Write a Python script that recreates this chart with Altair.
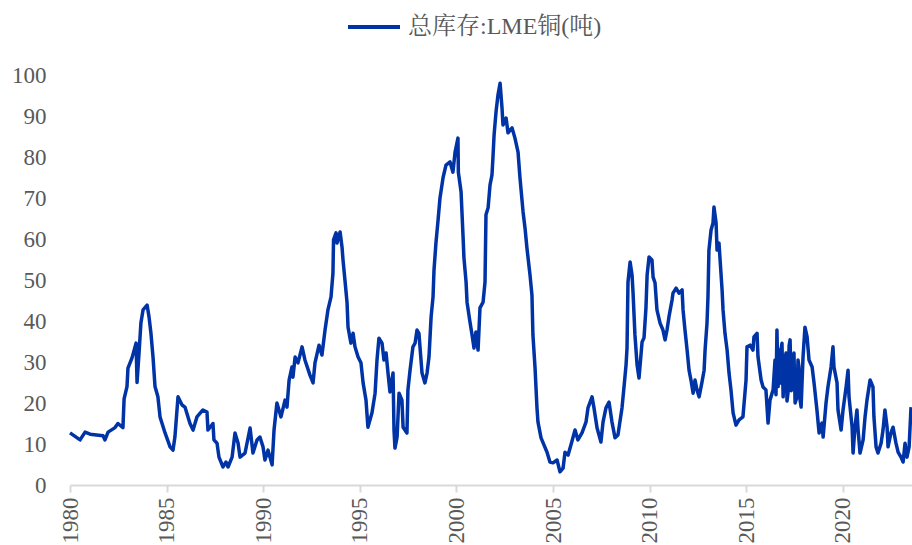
import altair as alt
import pandas as pd

series_name = "总库存:LME铜(吨)"

years = [
    1980.00, 1980.52, 1980.78, 1981.04, 1981.71, 1981.81, 1981.97, 1982.33, 1982.48, 1982.74,
    1982.80, 1982.95, 1983.00, 1983.21, 1983.42, 1983.47, 1983.57, 1983.67, 1983.78, 1983.99,
    1984.09, 1984.19, 1984.30, 1984.40, 1984.55, 1984.66, 1984.92, 1985.18, 1985.33, 1985.43,
    1985.59, 1985.80, 1985.95, 1986.21, 1986.37, 1986.57, 1986.88, 1987.09, 1987.14, 1987.40,
    1987.45, 1987.61, 1987.71, 1987.92, 1988.07, 1988.18, 1988.39, 1988.54, 1988.70, 1988.80,
    1989.06, 1989.32, 1989.47, 1989.68, 1989.83, 1989.99, 1990.09, 1990.25, 1990.46, 1990.56,
    1990.71, 1990.92, 1991.13, 1991.23, 1991.34, 1991.49, 1991.54, 1991.65, 1991.80, 1992.01,
    1992.16, 1992.42, 1992.58, 1992.68, 1992.89, 1993.04, 1993.20, 1993.35, 1993.51, 1993.61,
    1993.64, 1993.77, 1993.82, 1993.98, 1994.08, 1994.13, 1994.23, 1994.34, 1994.39, 1994.54,
    1994.65, 1994.75, 1994.91, 1995.06, 1995.17, 1995.32, 1995.42, 1995.63, 1995.79, 1995.89,
    1995.99, 1996.15, 1996.25, 1996.36, 1996.46, 1996.56, 1996.72, 1996.77, 1996.82, 1996.93,
    1997.03, 1997.18, 1997.24, 1997.44, 1997.49, 1997.60, 1997.75, 1997.86, 1997.96, 1998.06,
    1998.22, 1998.37, 1998.48, 1998.58, 1998.69, 1998.79, 1998.84, 1998.94, 1999.05, 1999.15,
    1999.31, 1999.46, 1999.67, 1999.82, 1999.93, 2000.08, 2000.10, 2000.24, 2000.34, 2000.39,
    2000.50, 2000.55, 2000.70, 2000.81, 2000.91, 2001.01, 2001.12, 2001.22, 2001.38, 2001.48,
    2001.53, 2001.64, 2001.74, 2001.84, 2001.89, 2001.95, 2002.05, 2002.15, 2002.26, 2002.36,
    2002.41, 2002.57, 2002.67, 2002.88, 2003.03, 2003.19, 2003.29, 2003.45, 2003.55, 2003.65,
    2003.81, 2003.91, 2003.96, 2004.07, 2004.17, 2004.22, 2004.38, 2004.53, 2004.69, 2004.84,
    2005.00, 2005.21, 2005.36, 2005.52, 2005.62, 2005.78, 2005.93, 2006.14, 2006.29, 2006.50,
    2006.71, 2006.81, 2007.02, 2007.12, 2007.28, 2007.48, 2007.59, 2007.74, 2007.90, 2008.05,
    2008.21, 2008.36, 2008.57, 2008.67, 2008.78, 2008.83, 2008.88, 2008.99, 2009.09, 2009.14,
    2009.24, 2009.35, 2009.45, 2009.61, 2009.71, 2009.81, 2009.87, 2009.97, 2010.12, 2010.18,
    2010.28, 2010.38, 2010.54, 2010.69, 2010.80, 2010.90, 2011.00, 2011.16, 2011.21, 2011.37,
    2011.52, 2011.68, 2011.73, 2011.83, 2011.94, 2012.04, 2012.14, 2012.25, 2012.35, 2012.45,
    2012.56, 2012.71, 2012.82, 2012.87, 2012.97, 2013.02, 2013.07, 2013.18, 2013.28, 2013.33,
    2013.44, 2013.49, 2013.59, 2013.75, 2013.80, 2013.90, 2014.01, 2014.11, 2014.21, 2014.32,
    2014.47, 2014.63, 2014.83, 2014.99, 2015.04, 2015.20, 2015.35, 2015.40, 2015.56, 2015.61,
    2015.77, 2015.87, 2016.02, 2016.13, 2016.23, 2016.39, 2016.49, 2016.54, 2016.59, 2016.65,
    2016.70, 2016.75, 2016.80, 2016.85, 2016.91, 2016.98, 2017.06, 2017.11, 2017.16, 2017.22,
    2017.27, 2017.33, 2017.42, 2017.47, 2017.53, 2017.63, 2017.68, 2017.73, 2017.78, 2017.84,
    2017.94, 2018.04, 2018.15, 2018.25, 2018.41, 2018.51, 2018.66, 2018.77, 2018.92, 2018.98,
    2019.13, 2019.23, 2019.39, 2019.49, 2019.54, 2019.70, 2019.75, 2019.91, 2020.01, 2020.17,
    2020.27, 2020.32, 2020.48, 2020.53, 2020.63, 2020.73, 2020.79, 2020.89, 2021.05, 2021.15,
    2021.25, 2021.41, 2021.56, 2021.61, 2021.72, 2021.82, 2021.98, 2022.08, 2022.18, 2022.29,
    2022.34, 2022.49, 2022.60, 2022.75, 2022.86, 2023.01, 2023.12, 2023.22, 2023.32, 2023.43,
    2023.53,
]

values = [
    12.7, 11.0, 12.9, 12.4, 12.0, 11.0, 12.9, 14.0, 15.0, 14.0,
    21.0, 24.0, 28.5, 31.0, 34.6, 25.0, 32.0, 39.5, 42.7, 43.9,
    41.0, 37.0, 31.0, 24.0, 21.5, 16.6, 12.7, 9.3, 8.5, 11.7,
    21.5, 19.5, 19.0, 15.0, 13.4, 16.6, 18.3, 17.8, 13.4, 15.0,
    11.0, 10.2, 6.8, 4.4, 5.6, 4.4, 6.8, 12.7, 10.2, 6.8,
    7.8, 13.9, 7.8, 11.0, 11.7, 9.3, 6.1, 8.5, 4.9, 13.4,
    20.0, 16.6, 20.7, 19.0, 25.6, 28.8, 26.3, 31.2, 29.8, 33.7,
    30.5, 26.8, 24.9, 29.8, 34.1, 31.7, 37.8, 42.7, 45.9, 51.7,
    59.8, 61.5, 59.0, 61.7, 58.0, 54.9, 50.0, 44.4, 38.5, 34.6,
    37.0, 33.7, 31.2, 29.8, 24.9, 20.7, 14.1, 17.6, 22.4, 30.5,
    35.8, 34.6, 30.5, 32.2, 27.3, 22.7, 27.3, 13.4, 9.0, 11.7,
    22.4, 20.7, 14.1, 12.7, 23.2, 28.0, 33.7, 34.6, 37.8, 37.0,
    27.3, 24.9, 27.3, 31.2, 41.0, 45.9, 52.4, 59.0, 64.6, 70.0,
    75.0, 78.0, 78.8, 76.3, 81.2, 84.6, 76.3, 71.5, 61.0, 55.4,
    49.5, 44.6, 39.8, 36.6, 33.4, 37.3, 32.9, 43.2, 44.6, 49.5,
    65.9, 67.6, 73.2, 75.6, 79.8, 85.4, 91.0, 95.1, 98.0, 92.0,
    87.8, 89.5, 85.9, 87.1, 84.6, 81.2, 74.9, 66.6, 62.7, 57.8,
    51.2, 46.3, 36.6, 28.5, 18.8, 15.4, 11.5, 9.8, 8.0, 5.6,
    5.4, 6.1, 3.2, 4.1, 8.0, 7.3, 9.8, 13.4, 11.0, 12.7,
    15.4, 18.8, 21.5, 18.8, 13.9, 10.5, 15.4, 18.8, 20.2, 15.4,
    11.5, 12.2, 18.8, 23.7, 29.3, 33.4, 49.5, 54.4, 51.2, 47.1,
    36.6, 29.3, 26.1, 34.9, 35.9, 43.2, 51.2, 55.6, 54.9, 50.7,
    49.3, 42.7, 39.5, 37.8, 35.4, 37.8, 41.0, 45.1, 46.8, 48.0,
    46.8, 47.6, 42.7, 37.8, 32.9, 28.0, 25.6, 22.4, 25.6, 23.2,
    21.5, 25.1, 28.0, 32.9, 39.5, 45.9, 57.3, 62.2, 63.9, 67.8,
    63.9, 57.3, 59.0, 47.6, 42.7, 37.0, 32.9, 27.3, 23.2, 17.6,
    14.6, 15.9, 16.6, 25.6, 33.7, 34.1, 32.9, 36.1, 37.0, 31.2,
    25.6, 23.9, 23.2, 15.1, 20.7, 23.2, 30.5, 22.0, 37.8, 24.0,
    32.9, 24.9, 33.0, 34.6, 21.5, 30.0, 32.2, 20.5, 22.4, 34.0,
    35.4, 23.0, 24.9, 32.2, 20.0, 21.5, 30.5, 28.8, 21.0, 19.0,
    31.2, 38.5, 36.1, 30.5, 28.8, 24.9, 18.3, 12.7, 15.1, 11.7,
    20.0, 23.9, 28.8, 33.7, 28.8, 24.9, 18.3, 13.4, 18.3, 23.9,
    28.0, 21.5, 14.1, 7.8, 14.1, 18.3, 13.4, 7.8, 11.0, 16.6,
    20.7, 25.6, 23.9, 16.6, 9.3, 7.8, 10.2, 13.4, 18.3, 14.1,
    9.3, 12.7, 14.1, 10.2, 8.0, 6.8, 5.6, 10.2, 6.8, 9.3,
    19.0,
]

x_ticks = [1980, 1985, 1990, 1995, 2000, 2005, 2010, 2015, 2020]
y_ticks = [0, 10, 20, 30, 40, 50, 60, 70, 80, 90, 100]

df = pd.DataFrame({"year": years, "value": values, "series": series_name})

FONT = "Liberation Serif, Noto Serif CJK SC, Noto Sans CJK SC"
GREY = "#595959"

chart = alt.Chart(df).mark_line(strokeWidth=3.5, strokeJoin="round").encode(
    x=alt.X(
        "year:Q",
        scale=alt.Scale(domain=[1980, 2023.58], nice=False, zero=False),
        axis=alt.Axis(
            values=x_ticks, format="d", title=None, grid=False,
            labelAngle=-90, labelAlign="right", labelBaseline="middle",
            labelPadding=5, labelFont=FONT, labelFontSize=23, labelColor=GREY,
            domainColor="#D9D9D9", domainWidth=2, tickColor="#D9D9D9",
            tickWidth=2, tickSize=7, labelFlush=False, labelOverlap=False,
        ),
    ),
    y=alt.Y(
        "value:Q",
        scale=alt.Scale(domain=[0, 100], nice=False),
        axis=alt.Axis(
            values=y_ticks, title=None, grid=False, domain=False, ticks=False,
            labelPadding=24, labelFont=FONT, labelFontSize=23, labelColor=GREY,
        ),
    ),
    color=alt.Color(
        "series:N",
        scale=alt.Scale(domain=[series_name], range=["#0033A6"]),
        legend=alt.Legend(
            title=None, orient="none", legendX=276, legendY=-76,
            direction="horizontal", symbolType="stroke", symbolSize=2704,
            symbolStrokeWidth=4, labelFont=FONT, labelFontSize=24,
            labelColor=GREY, labelOffset=6, padding=0, labelLimit=0,
        ),
    ),
).properties(
    width=842,
    height=410,
    autosize=alt.AutoSizeParams(type="none"),
    padding={"left": 70, "top": 75, "right": 0, "bottom": 60},
).configure_view(strokeWidth=0)

chart.save("out.html", embed_options={"renderer": "svg", "actions": False})
